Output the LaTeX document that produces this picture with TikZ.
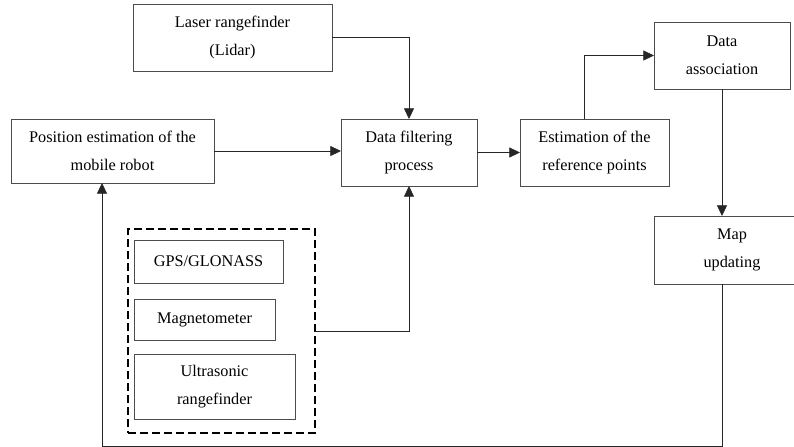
\documentclass[tikz,border=0pt]{standalone}
\usepackage{fontspec}
\setmainfont{Liberation Serif}
\usetikzlibrary{arrows.meta}

\begin{document}
\begin{tikzpicture}[x=0.75pt, y=-0.75pt,
                    line width=0.6pt,
                    >={Triangle[length=8pt,width=7.5pt]},
                    font=\fontsize{12.2}{21}\selectfont]
    \tikzstyle{block}=[draw=black!70, rectangle, align=center, inner sep=2pt, outer sep=0pt]
    \tikzstyle{sensor}=[block]
    \tikzstyle{group}=[draw=black, dashed, dash pattern=on 6pt off 3pt, line width=1.1pt, rectangle, outer sep=0pt]
    \tikzstyle{link}=[draw=black!85, line width=0.6pt]

    \clip (0,0) rectangle (794,447);
    \useasboundingbox (0,0) rectangle (794,447);

    \node[block, minimum width=149.25pt, minimum height=50.25pt] (lidar) at (232.5,37.5) {Laser rangefinder\\(Lidar)};
    \node[block, minimum width=152.25pt, minimum height=48pt] (position) at (112.5,151) {Position estimation of the\\mobile robot};
    \node[block, minimum width=102pt, minimum height=50.25pt] (filter) at (409,152.5) {Data filtering\\process};
    \node[block, minimum width=111.75pt, minimum height=50.25pt] (refpoints) at (594.5,152.5) {Estimation of the\\reference points};
    \node[block, minimum width=102pt, minimum height=50.25pt] (assoc) at (722,55.5) {Data\\association};
    \node[block, minimum width=117pt, minimum height=51pt] (map) at (732,250) {Map\\updating};

    % sensors
    \node[group, minimum width=140.25pt, minimum height=153pt] (sensors) at (221.5,331) {};
    \node[sensor, minimum width=111.75pt, minimum height=32.25pt] (gps) at (208.5,261.5) {GPS/GLONASS};
    \node[sensor, minimum width=105.75pt, minimum height=30.75pt] (magneto) at (204.5,319.5) {Magnetometer};
    \node[sensor, minimum width=120.75pt, minimum height=48.75pt] (sonar) at (214.5,386.5) {Ultrasonic\\rangefinder};

    \draw[link,->] (lidar.east) -| (filter.north);
    \draw[link,->] (position.east) -- (position.east -| filter.west);
    \draw[link,->] (filter) -- (refpoints);
    \draw[link,->] ([xshift=-7.875pt]refpoints.north) |- (assoc.west);
    \draw[link,->] (assoc.south) -- (assoc.south |- map.north);
    \draw[link,->] (sensors.east) -| (filter.south);

    % feedback loop
    \coordinate (loop) at (722,446);
    \draw[link,->] ([xshift=-7.5pt]map.south) -- (loop) -| ([xshift=-7.875pt]position.south);
\end{tikzpicture}
\end{document}
